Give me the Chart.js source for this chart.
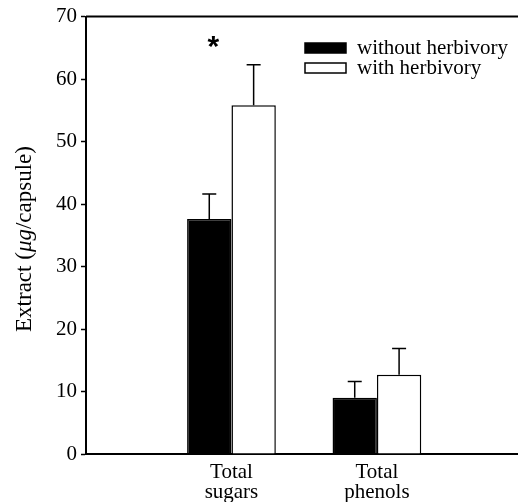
<!DOCTYPE html>
<html>
<head>
<meta charset="utf-8">
<script src="https://cdn.jsdelivr.net/npm/chart.js@4"></script>
<style>
  body { margin: 0; background: #fff; }
  canvas { display: block; }
</style>
</head>
<body>
<canvas id="extract-chart" width="518" height="502"></canvas>
<script>
// Categories and where they sit on the x axis
let categories = [['Total', 'sugars'], ['Total', 'phenols']];
let categoryPos = [1, 2];

// Series values (µg/capsule) and upper error bars
let seriesLabels = ['without herbivory', 'with herbivory'];
let withoutHerbivory = [37.6, 9.0];
let withoutHerbivoryErr = [4.0, 2.6];
let withHerbivory = [55.8, 12.7];
let withHerbivoryErr = [6.5, 4.2];

// Y ticks
let yTicks = [0, 10, 20, 30, 40, 50, 60, 70];

// Significance marks: [category index, value]
let stars = [[0, 66]];

const serif = 'Liberation Serif';

// Error whiskers (upward only)
const errorBars = {
    id: 'errorBars',
    afterDatasetsDraw(chart) {
        const ctx = chart.ctx;
        const y = chart.scales.y;
        ctx.save();
        ctx.strokeStyle = '#000';
        ctx.lineWidth = 1.5;
        chart.data.datasets.forEach((ds, di) => {
            const meta = chart.getDatasetMeta(di);
            meta.data.forEach((bar, i) => {
                const top = y.getPixelForValue(ds.data[i].y + ds.errors[i]);
                ctx.beginPath();
                ctx.moveTo(bar.x, bar.y);
                ctx.lineTo(bar.x, top);
                ctx.moveTo(bar.x - 7, top);
                ctx.lineTo(bar.x + 7, top);
                ctx.stroke();
            });
        });
        ctx.restore();
    }
};

// Top frame line, asterisk, legend and y title
const decorations = {
    id: 'decorations',
    afterDraw(chart) {
        const ctx = chart.ctx;
        const area = chart.chartArea;
        const x = chart.scales.x;
        const y = chart.scales.y;
        ctx.save();

        ctx.strokeStyle = '#000';
        ctx.lineWidth = 2;
        ctx.beginPath();
        ctx.moveTo(area.left, area.top);
        ctx.lineTo(area.right, area.top);
        ctx.stroke();

        // asterisk
        ctx.fillStyle = '#000';
        ctx.font = 'bold 30px "Liberation Sans"';
        ctx.textAlign = 'center';
        ctx.textBaseline = 'middle';
        stars.forEach(s => {
            ctx.fillText('*', x.getPixelForValue(categoryPos[s[0]]) - 18, y.getPixelForValue(s[1]) + 6);
        });

        // legend
        ctx.font = '21px "' + serif + '"';
        ctx.textAlign = 'left';
        chart.data.datasets.forEach((ds, i) => {
            const cy = 48 + i * 20;
            ctx.fillStyle = ds.backgroundColor;
            ctx.fillRect(305, cy - 5, 41, 10);
            ctx.lineWidth = 1.5;
            ctx.strokeRect(305, cy - 5, 41, 10);
            ctx.fillStyle = '#000';
            ctx.fillText(ds.label, 357, cy);
        });

        // y axis title with italic unit
        const parts = [['Extract (', ''], ['\u03bcg', 'italic '], ['/capsule)', '']];
        const size = '23px "' + serif + '"';
        let total = 0;
        parts.forEach(p => { ctx.font = p[1] + size; total += ctx.measureText(p[0]).width; });
        ctx.translate(25, 239);
        ctx.rotate(-Math.PI / 2);
        let pos = -total / 2;
        ctx.textBaseline = 'middle';
        parts.forEach(p => {
            ctx.font = p[1] + size;
            ctx.fillText(p[0], pos, 0);
            pos += ctx.measureText(p[0]).width;
        });
        ctx.restore();
    }
};

let extractChart = new Chart(document.getElementById('extract-chart'), {
    type: 'bar',
    data: {
        datasets: [
            {
                label: seriesLabels[0],
                data: categoryPos.map((p, i) => ({ x: p, y: withoutHerbivory[i] })),
                errors: withoutHerbivoryErr,
                backgroundColor: '#000',
                borderColor: '#000',
                borderWidth: 1.5,
                borderSkipped: 'bottom',
                categoryPercentage: 0.61,
                barPercentage: 1
            },
            {
                label: seriesLabels[1],
                data: categoryPos.map((p, i) => ({ x: p, y: withHerbivory[i] })),
                errors: withHerbivoryErr,
                backgroundColor: '#fff',
                borderColor: '#000',
                borderWidth: 1.5,
                borderSkipped: 'bottom',
                categoryPercentage: 0.61,
                barPercentage: 1
            }
        ]
    },
    options: {
        responsive: false,
        animation: false,
        layout: { padding: { top: 16, right: 0, left: 0, bottom: 0 } },
        plugins: {
            legend: { display: false },
            tooltip: { enabled: false }
        },
        scales: {
            x: {
                type: 'linear',
                offset: false,
                min: 0,
                max: 2.97,
                afterFit: s => { s.height = 48; },
                afterBuildTicks: s => { s.ticks = categoryPos.map(v => ({ value: v })); },
                grid: { display: false },
                border: { display: true, color: '#000', width: 2 },
                ticks: {
                    color: '#000',
                    font: { family: serif, size: 21, lineHeight: 0.95 },
                    padding: 1,
                    maxRotation: 0,
                    autoSkip: false,
                    callback: v => categories[categoryPos.indexOf(v)] || ''
                }
            },
            y: {
                min: yTicks[0],
                max: yTicks[yTicks.length - 1],
                afterFit: s => { s.width = 86; },
                afterBuildTicks: s => { s.ticks = yTicks.map(v => ({ value: v })); },
                grid: {
                    drawOnChartArea: false,
                    drawTicks: true,
                    tickLength: 5,
                    tickColor: '#000',
                    tickWidth: 1.5
                },
                border: { display: true, color: '#000', width: 2 },
                ticks: {
                    color: '#000',
                    font: { family: serif, size: 21 },
                    padding: 4
                }
            }
        }
    },
    plugins: [errorBars, decorations]
});
</script>
</body>
</html>
